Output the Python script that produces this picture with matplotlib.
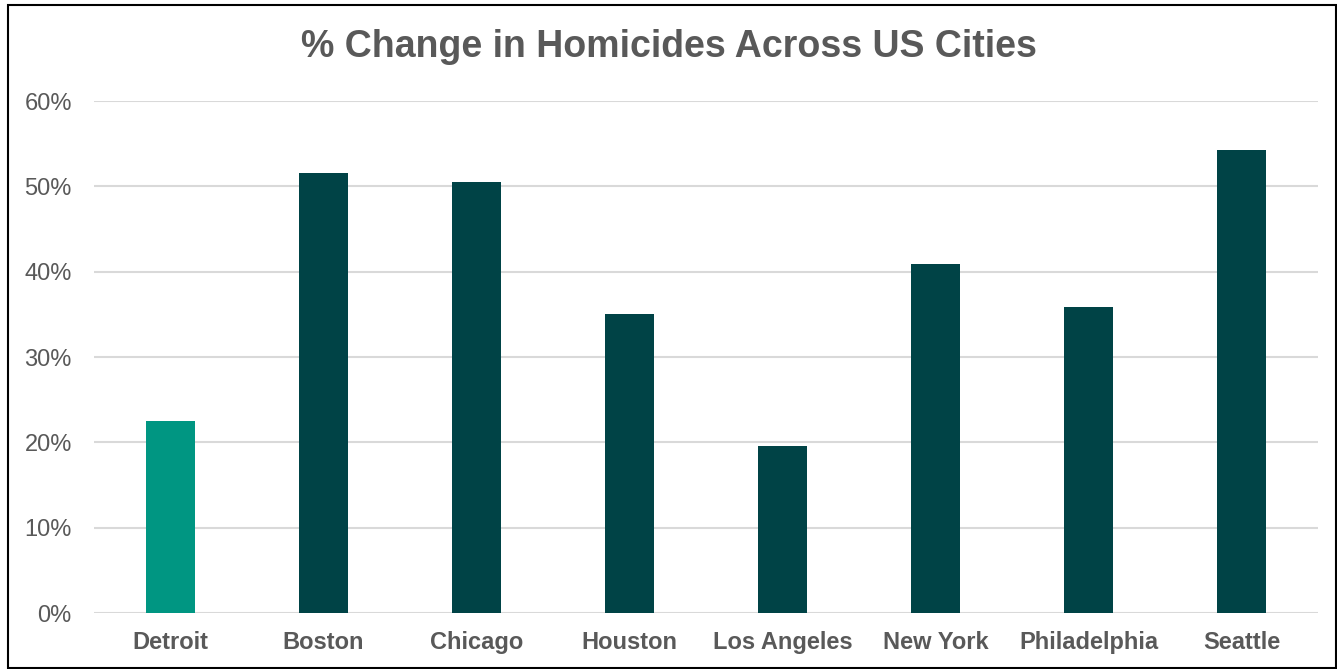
import matplotlib.pyplot as plt
from matplotlib.ticker import PercentFormatter
from matplotlib.patches import Rectangle

cidades = ["Detroit", "Boston", "Chicago", "Houston", "Los Angeles",
           "New York", "Philadelphia", "Seattle"]
variacao = [22.5, 51.6, 50.5, 35.0, 19.6, 40.9, 35.9, 54.2]
cores = ["#009682"] + ["#004346"] * 7

plt.rcParams['font.family'] = ['Liberation Sans', 'DejaVu Sans']

fig = plt.figure(figsize=(13.37, 6.69), dpi=100)
ax = fig.add_axes([94 / 1337, (669 - 613) / 669, 1224 / 1337, 512 / 669])

x = range(len(cidades))
ax.bar(x, variacao, width=0.32, color=cores, zorder=3)

ax.set_xlim(-0.5, len(cidades) - 0.5)
ax.set_ylim(0, 60)
ax.set_yticks(range(0, 61, 10))
ax.yaxis.set_major_formatter(PercentFormatter(decimals=0))
ax.set_xticks(list(x))
ax.set_xticklabels(cidades, fontweight="bold")
ax.tick_params(axis="both", length=0, labelsize=17, labelcolor="#595959")
ax.tick_params(axis="x", pad=13)
ax.tick_params(axis="y", pad=16)
ax.grid(axis="y", color="#d9d9d9", linewidth=1.5, zorder=0)
for s in ax.spines.values():
    s.set_visible(False)

fig.text(0.5, 1 - 47 / 669, "% Change in Homicides Across US Cities",
         ha="center", va="center", fontsize=27, fontweight="bold", color="#595959")

# moldura preta
fig.patches.append(Rectangle((8 / 1337, 0.002), 1 - 9 / 1337, 1 - 6 / 669,
                             transform=fig.transFigure, fill=False,
                             edgecolor="black", linewidth=1.5))

fig.savefig("out.png", dpi=100)
